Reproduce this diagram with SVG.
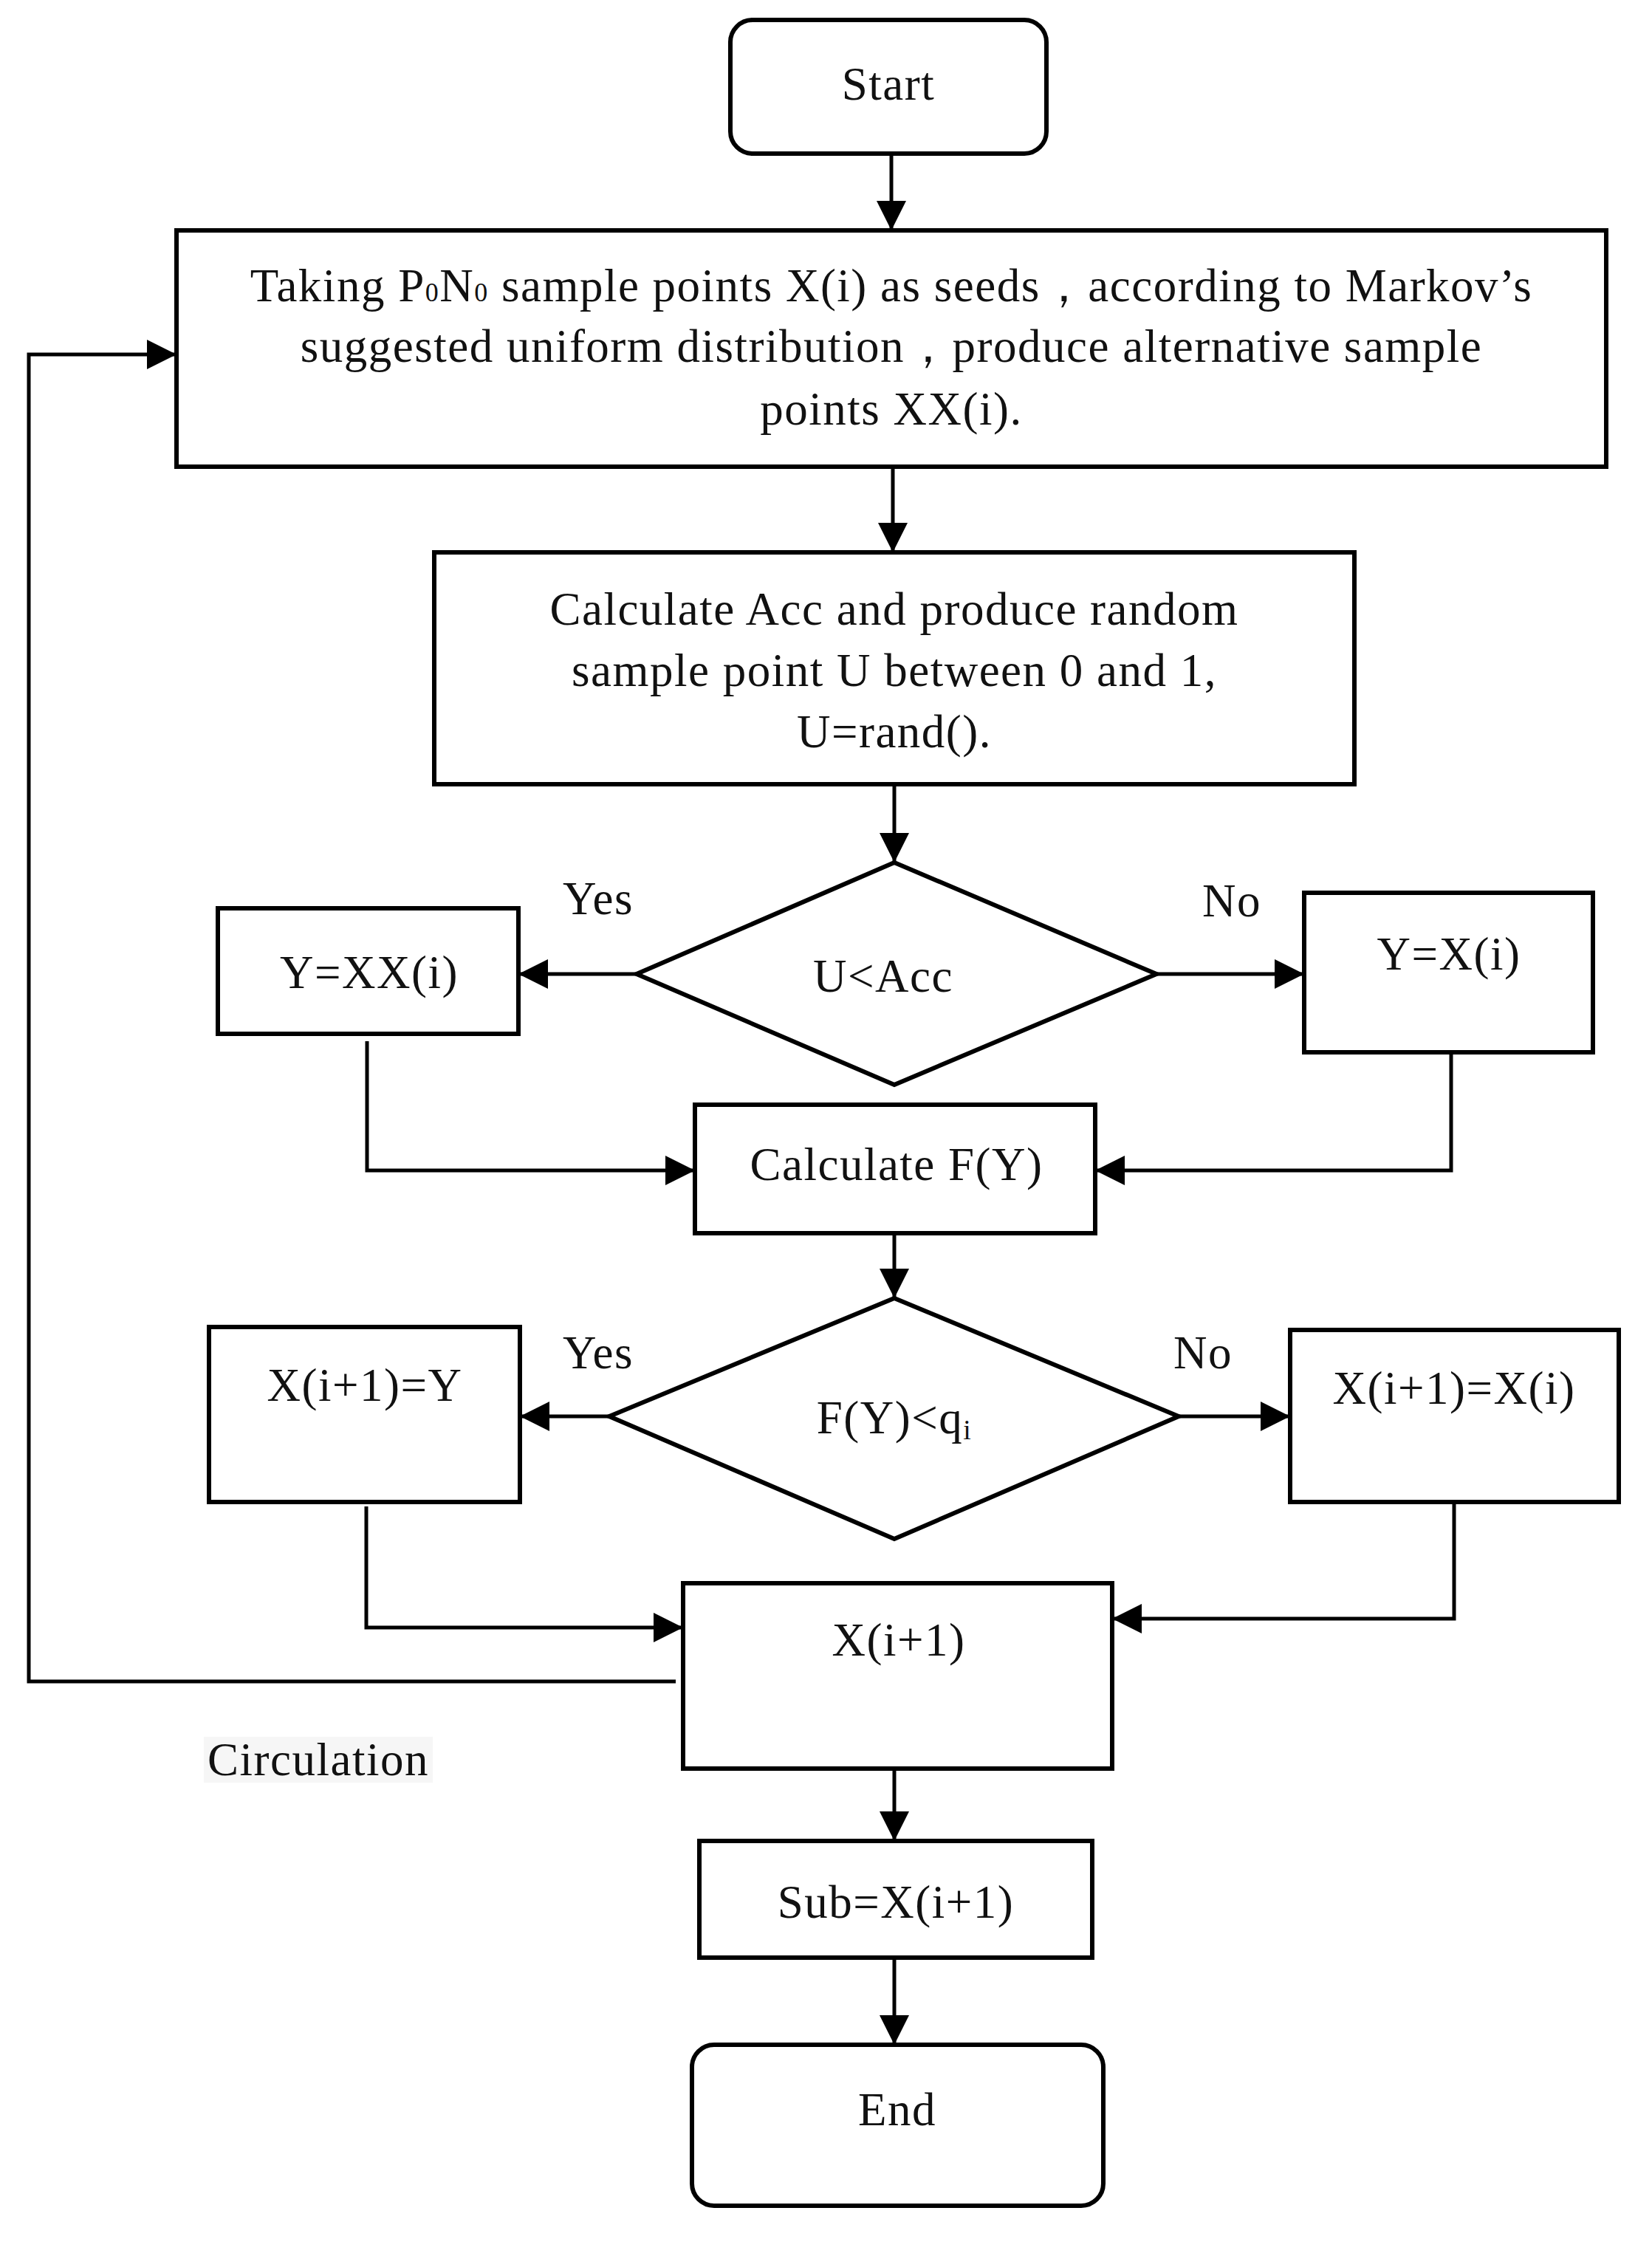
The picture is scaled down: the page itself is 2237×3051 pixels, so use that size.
<svg xmlns="http://www.w3.org/2000/svg" width="2237" height="3051" viewBox="0 0 2237 3051">
<style>
.n{fill:#fff;stroke:#000;stroke-width:6}
.t{font-family:"Liberation Serif",serif;font-size:63px;letter-spacing:1.5px;fill:#111;text-anchor:middle}
.c{fill:none;stroke:#000;stroke-width:5}
</style>
<defs>
<marker id="a" markerUnits="userSpaceOnUse" markerWidth="40" markerHeight="40" refX="38" refY="20" orient="auto"><path d="M0,0 L40,20 L0,40 Z" fill="#000"/></marker>
</defs>
<rect width="2237" height="3051" fill="#fff"/>
<g id="connectors">
<path class="c" d="M1207,208 V310" marker-end="url(#a)"/>
<path class="c" d="M1209,632 V746" marker-end="url(#a)"/>
<path class="c" d="M1211,1062 V1166" marker-end="url(#a)"/>
<path class="c" d="M862,1319 H704" marker-end="url(#a)"/>
<path class="c" d="M1566,1319 H1764" marker-end="url(#a)"/>
<path class="c" d="M497,1410 V1585 H939" marker-end="url(#a)"/>
<path class="c" d="M1965,1425 V1585 H1485" marker-end="url(#a)"/>
<path class="c" d="M1211,1670 V1756" marker-end="url(#a)"/>
<path class="c" d="M825,1918 H706" marker-end="url(#a)"/>
<path class="c" d="M1596,1918 H1745" marker-end="url(#a)"/>
<path class="c" d="M496,2040 V2204 H923" marker-end="url(#a)"/>
<path class="c" d="M1969,2034 V2192 H1508" marker-end="url(#a)"/>
<path class="c" d="M915,2277 H39 V480 H237" marker-end="url(#a)"/>
<path class="c" d="M1211,2395 V2491" marker-end="url(#a)"/>
<path class="c" d="M1211,2651 V2767" marker-end="url(#a)"/>
</g>
<g id="start"><rect class="n" x="989" y="27" width="428" height="181" rx="30"/><text class="t" x="1203" y="135">Start</text></g>
<g id="seeds"><rect class="n" x="239" y="312" width="1936" height="320"/>
<text class="t" x="1207" y="408">Taking P<tspan font-size="36">0</tspan>N<tspan font-size="36">0</tspan> sample points X(i) as seeds，according to Markov’s</text>
<text class="t" x="1207" y="490">suggested  uniform distribution，produce alternative sample</text>
<text class="t" x="1207" y="575">points XX(i).</text></g>
<g id="acc"><rect class="n" x="588" y="748" width="1246" height="314"/>
<text class="t" x="1211" y="846">Calculate Acc and produce random</text>
<text class="t" x="1211" y="929">sample point U between 0 and 1,</text>
<text class="t" x="1211" y="1012">U=rand().</text></g>
<g id="d1"><polygon class="n" points="1211,1168 1566,1319 1211,1469 862,1319"/><text class="t" x="1196" y="1343">U&lt;Acc</text></g>
<g id="yxx"><rect class="n" x="295" y="1230" width="407" height="170"/><text class="t" x="500" y="1338">Y=XX(i)</text></g>
<g id="yx"><rect class="n" x="1766" y="1209" width="391" height="216"/><text class="t" x="1962" y="1313">Y=X(i)</text></g>
<text class="t" x="810" y="1238">Yes</text>
<text class="t" x="1668" y="1241">No</text>
<g id="fy"><rect class="n" x="941" y="1496" width="542" height="174"/><text class="t" x="1214" y="1598">Calculate F(Y)</text></g>
<g id="d2"><polygon class="n" points="1211,1758 1596,1918 1211,2084 825,1918"/><text class="t" x="1211" y="1941">F(Y)&lt;q<tspan font-size="38" dy="8">i</tspan></text></g>
<g id="xy"><rect class="n" x="283" y="1797" width="421" height="237"/><text class="t" x="494" y="1897">X(i+1)=Y</text></g>
<g id="xx"><rect class="n" x="1747" y="1801" width="445" height="233"/><text class="t" x="1969" y="1901">X(i+1)=X(i)</text></g>
<text class="t" x="810" y="1853">Yes</text>
<text class="t" x="1629" y="1853">No</text>
<g id="xi"><rect class="n" x="925" y="2144" width="581" height="251"/><text class="t" x="1217" y="2242">X(i+1)</text></g>
<rect x="276" y="2352" width="310" height="62" fill="#f6f6f6"/>
<text class="t" x="431" y="2404" fill="#333">Circulation</text>
<g id="sub"><rect class="n" x="947" y="2493" width="532" height="158"/><text class="t" x="1213" y="2597">Sub=X(i+1)</text></g>
<g id="end"><rect class="n" x="937" y="2769" width="557" height="218" rx="30"/><text class="t" x="1215" y="2878">End</text></g>
</svg>
